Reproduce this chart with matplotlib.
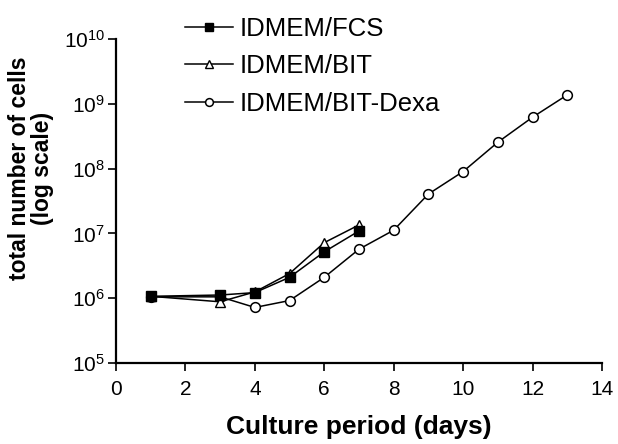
import matplotlib.pyplot as plt
from matplotlib.ticker import FixedLocator, FixedFormatter

plt.rcParams['font.family'] = ['Liberation Sans', 'DejaVu Sans']
plt.rcParams['mathtext.fontset'] = 'custom'
plt.rcParams['mathtext.rm'] = 'Liberation Sans'
plt.rcParams['mathtext.it'] = 'Liberation Sans'

# days
days_fcs = [1, 3, 4, 5, 6, 7]
cells_fcs = [1.07e6, 1.12e6, 1.22e6, 2.1e6, 5.2e6, 1.09e7]

days_bit = [1, 3, 4, 5, 6, 7]
cells_bit = [1.07e6, 0.88e6, 1.25e6, 2.4e6, 7.2e6, 1.35e7]

days_dexa = [1, 3, 4, 5, 6, 7, 8, 9, 10, 11, 12, 13]
cells_dexa = [1.05e6, 1.05e6, 0.72e6, 0.92e6, 2.1e6, 5.7e6, 1.12e7,
              4.05e7, 9.0e7, 2.55e8, 6.2e8, 1.37e9]

xticks = [0, 2, 4, 6, 8, 10, 12, 14]
yticks = [1e5, 1e6, 1e7, 1e8, 1e9, 1e10]
ylabels = ['$10^{5}$', '$10^{6}$', '$10^{7}$', '$10^{8}$', '$10^{9}$', '$10^{10}$']

fig = plt.figure(figsize=(6.18, 4.44), dpi=100)
ax = fig.add_axes([0.1877, 0.1824, 0.7863, 0.7298])

ax.plot(days_fcs, cells_fcs, color='black', lw=1.1, marker='s', ms=6.5,
        mfc='black', mec='black', label='IDMEM/FCS', zorder=3)
ax.plot(days_bit, cells_bit, color='black', lw=1.1, marker='^', ms=7,
        mfc='white', mec='black', label='IDMEM/BIT', zorder=2)
ax.plot(days_dexa, cells_dexa, color='black', lw=1.1, marker='o', ms=7,
        mfc='white', mec='black', mew=1.1, label='IDMEM/BIT-Dexa', zorder=1)

ax.set_yscale('log')
ax.set_xlim(0, 14)
ax.set_ylim(1e5, 1e10)
ax.xaxis.set_major_locator(FixedLocator(xticks))
ax.yaxis.set_major_locator(FixedLocator(yticks))
ax.yaxis.set_major_formatter(FixedFormatter(ylabels))
ax.yaxis.set_minor_locator(FixedLocator([]))

ax.spines['top'].set_visible(False)
ax.spines['right'].set_visible(False)
ax.spines['left'].set_linewidth(1.6)
ax.spines['bottom'].set_linewidth(1.6)
ax.tick_params(direction='out', length=6, width=1.2, labelsize=15, colors='black')
ax.tick_params(axis='x', pad=6)
ax.tick_params(axis='y', pad=2)

ax.set_xlabel('Culture period (days)', fontsize=19, fontweight='bold', labelpad=12)
ax.set_ylabel('total number of cells\n(log scale)', fontsize=16.5, fontweight='bold',
              linespacing=1.0)
ax.yaxis.set_label_coords(-0.128, 0.60)

ax.legend(loc='upper left', bbox_to_anchor=(0.274, 0.997), bbox_transform=fig.transFigure,
          frameon=False, fontsize=18.5, handlelength=1.87, handletextpad=0.28,
          labelspacing=0.53, borderaxespad=0.2, markerscale=0.8)

plt.savefig('out.png', dpi=100)
